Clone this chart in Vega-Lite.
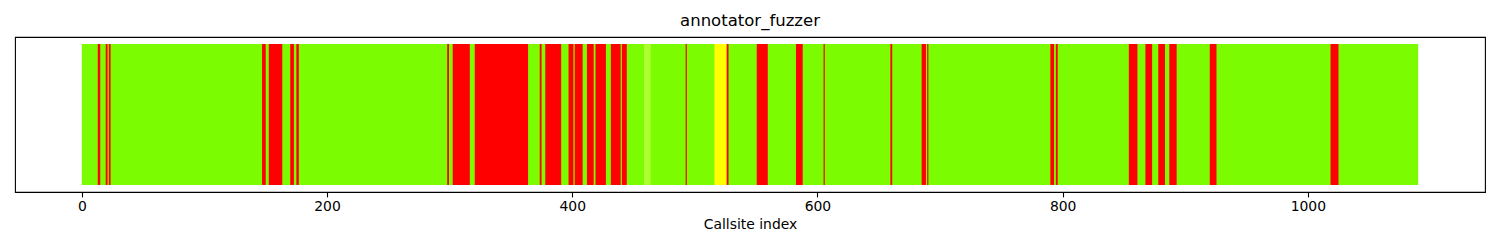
{
  "$schema": "https://vega.github.io/schema/vega-lite/v6.json",
  "width": 1470,
  "height": 155,
  "autosize": {"type": "none"},
  "padding": {"left": 15, "top": 37, "right": 15, "bottom": 58},
  "background": "white",
  "title": {"text": "annotator_fuzzer", "font": "DejaVu Sans", "fontSize": 16.5, "fontWeight": "normal", "color": "black", "offset": 8},
  "config": {"view": {"stroke": "black", "strokeWidth": 1.1}},
  "data": {"values": [
    {"start": 0, "end": 1090, "status": "ok"},
    {"start": 13, "end": 15, "status": "fail"},
    {"start": 19.5, "end": 21, "status": "fail"},
    {"start": 22, "end": 23.5, "status": "fail"},
    {"start": 147, "end": 150, "status": "fail"},
    {"start": 152.5, "end": 163.5, "status": "fail"},
    {"start": 170, "end": 173, "status": "fail"},
    {"start": 175, "end": 177, "status": "fail"},
    {"start": 298, "end": 299.5, "status": "fail"},
    {"start": 302.5, "end": 316.5, "status": "fail"},
    {"start": 320.5, "end": 364, "status": "fail"},
    {"start": 373.5, "end": 375, "status": "fail"},
    {"start": 378, "end": 391, "status": "fail"},
    {"start": 397, "end": 401, "status": "fail"},
    {"start": 402, "end": 408.5, "status": "fail"},
    {"start": 412, "end": 417.5, "status": "fail"},
    {"start": 419, "end": 427.5, "status": "fail"},
    {"start": 431.5, "end": 439.5, "status": "fail"},
    {"start": 440.5, "end": 444.5, "status": "fail"},
    {"start": 458.5, "end": 464, "status": "partial"},
    {"start": 492.5, "end": 493.5, "status": "fail"},
    {"start": 516, "end": 526, "status": "warn"},
    {"start": 526, "end": 527.5, "status": "fail"},
    {"start": 550.5, "end": 559.5, "status": "fail"},
    {"start": 582.5, "end": 588, "status": "fail"},
    {"start": 605, "end": 606, "status": "fail"},
    {"start": 659.5, "end": 661, "status": "fail"},
    {"start": 685, "end": 688.5, "status": "fail"},
    {"start": 689.5, "end": 690.5, "status": "fail"},
    {"start": 790, "end": 793, "status": "fail"},
    {"start": 794.5, "end": 796, "status": "fail"},
    {"start": 854, "end": 861, "status": "fail"},
    {"start": 867.5, "end": 873, "status": "fail"},
    {"start": 878, "end": 883.5, "status": "fail"},
    {"start": 887, "end": 893, "status": "fail"},
    {"start": 920, "end": 925.5, "status": "fail"},
    {"start": 1018.5, "end": 1025, "status": "fail"}
  ]},
  "mark": {"type": "rect"},
  "encoding": {
    "x": {"field": "start", "type": "quantitative",
      "scale": {"domain": [-54.5, 1144.5], "nice": false, "zero": false},
      "axis": {"title": "Callsite index", "values": [0, 200, 400, 600, 800, 1000], "format": "d", "grid": false, "domain": false,
        "tickColor": "black", "tickSize": 4.9, "tickWidth": 1.1, "labelPadding": 3, "labelFont": "DejaVu Sans", "labelFontSize": 13.9, "labelColor": "black",
        "titleFont": "DejaVu Sans", "titleFontSize": 13.9, "titleFontWeight": "normal", "titleColor": "black", "titlePadding": 4, "labelFlush": false}},
    "x2": {"field": "end"},
    "y": {"datum": 0, "type": "quantitative", "scale": {"domain": [-0.05, 1.05], "nice": false, "zero": false}, "axis": null},
    "y2": {"datum": 1},
    "color": {"field": "status", "type": "nominal",
      "scale": {"domain": ["ok", "fail", "warn", "partial"], "range": ["#7CFC00", "#FF0000", "#FFFF00", "#ADFF2F"]},
      "legend": null}
  }
}
